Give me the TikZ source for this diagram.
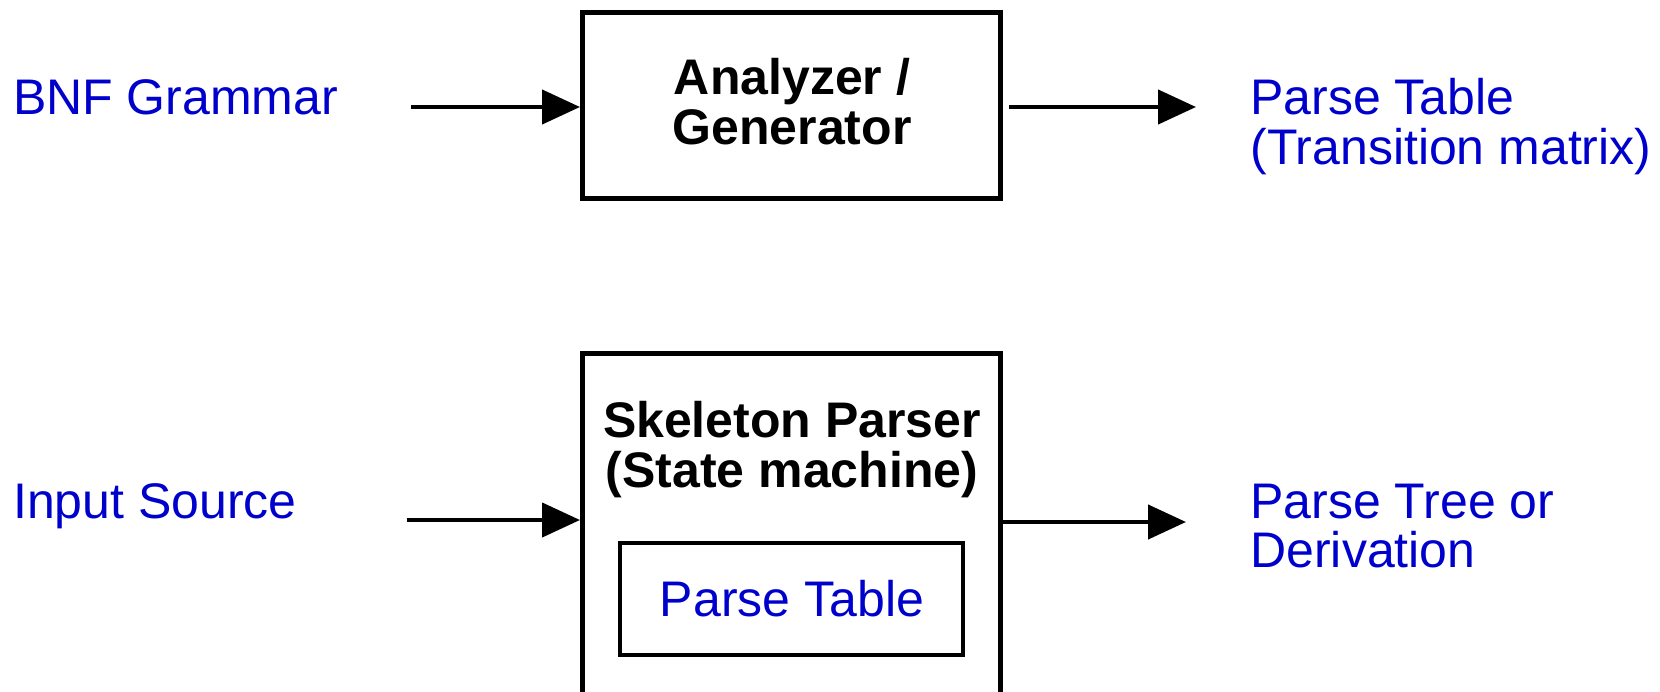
\documentclass[tikz,border=0pt]{standalone}
\usepackage{fontspec}
\setmainfont{Liberation Sans}
\usetikzlibrary{arrows.meta}
\definecolor{lblue}{RGB}{0,0,204}
\begin{document}
\begin{tikzpicture}[x=0.5pt,y=-0.5pt,
  lbl/.style={text=lblue, font=\fontsize{25}{24.75}\selectfont, inner sep=0pt, align=left, anchor=base west},
  box/.style={draw, line width=2.3pt, inner sep=0pt, anchor=north west},
  arr/.style={line width=2.2pt, -{Triangle[length=19pt,width=17pt]}},
  ttl/.style={font=\bfseries\fontsize{25}{25}\selectfont, align=center, inner sep=0pt, anchor=base}]
\useasboundingbox (0,0) rectangle (1660,691);
% top row
\node[box, minimum width=209pt, minimum height=93pt] (gen) at (580,10) {};
\node[ttl] (gentxt) at (792,144) {Analyzer /\\Generator};
\node[lbl] (bnf) at (12.7,114.3) {BNF Grammar};
\node[lbl] (ptab) at (1250,164) {Parse Table\\(Transition matrix)};
\coordinate (a1s) at (410.8,107);
\coordinate (a2s) at (1009,107);
\coordinate (a2e) at (1196,107);
\draw[arr] (a1s) -- (a1s -| gen.west);
\draw[arr] (a2s) -- (a2e);
% bottom row
\node[box, minimum width=209pt, minimum height=186pt] (skel) at (580,351) {};
\node[ttl] (skeltxt) at (792,487) {Skeleton Parser\\(State machine)};
\node[box, line width=2pt, minimum width=171.5pt, minimum height=56pt] (inner) at (618,541) {};
\node[lbl, anchor=base] (innertxt) at (792,616) {Parse Table};
\node[lbl] (inp) at (12.7,518.8) {Input Source};
\node[lbl] (ptree) at (1250,567.5) {Parse Tree or\\Derivation};
\coordinate (a3s) at (406.5,520);
\coordinate (a4e) at (1186,522);
\draw[arr] (a3s) -- (a3s -| skel.west);
\draw[arr] (a4e -| skel.east) -- (a4e);
\end{tikzpicture}
\end{document}
